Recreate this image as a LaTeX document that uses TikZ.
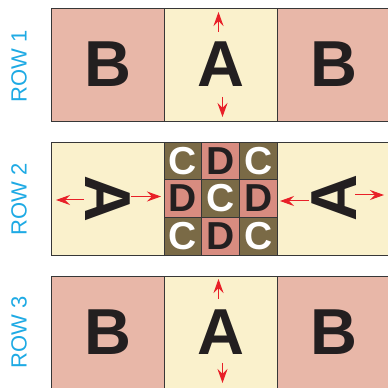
\documentclass[tikz,border=0pt]{standalone}
\usepackage{fontspec}
\setmainfont{Liberation Sans}
\usetikzlibrary{arrows.meta, positioning}

\definecolor{tileB}{RGB}{232,183,168}
\definecolor{tileA}{RGB}{250,241,204}
\definecolor{tileC}{RGB}{122,106,70}
\definecolor{tileD}{RGB}{216,140,128}
\definecolor{edge}{RGB}{55,55,55}
\definecolor{ink}{RGB}{35,31,32}
\definecolor{rowblue}{RGB}{30,170,228}
\definecolor{arrowred}{RGB}{232,32,40}

\begin{document}
\begin{tikzpicture}[
        x = 1pt, y = 1pt,
        > = {Stealth[length=14pt, width=10pt, inset=5pt]}, % arrow head style
        node distance = 0pt, % tiles touch each other
        big/.style = {draw = edge, line width = 0.9pt, minimum size = 113pt,
            inner sep = 0pt, outer sep = 0pt, text = ink,
            font = \fontsize{65}{65}\selectfont\bfseries},
        small/.style = {draw = edge, line width = 0.9pt, minimum size = 37.67pt,
            inner sep = 0pt, outer sep = 0pt,
            font = \fontsize{39}{39}\selectfont\bfseries},
        tileA/.style = {big, fill = tileA},
        tileB/.style = {big, fill = tileB},
        tileC/.style = {small, fill = tileC, text = white},
        tileD/.style = {small, fill = tileD, text = ink},
        bigletter/.style = {inner sep = 0pt, text = ink,
            font = \fontsize{65}{65}\selectfont\bfseries},
        rowlabel/.style = {rotate = 90, inner sep = 0pt, text = rowblue,
            font = \fontsize{22}{22}\selectfont},
        push/.style = {->, draw = arrowred, line width = 1pt}
    ]

    \useasboundingbox (0,0) rectangle (388,388);
    \clip (0,0) rectangle (388,388);

    % row 1
    \node[tileB] (b11) at (107.5,323.5) {B};
    \node[tileA, right = of b11] (a12) {A};
    \node[tileB, right = of a12] (b13) {B};

    % row 2
    \node[tileA] (a21) at (107.5,189.5) {};
    \node[tileA, right = of a21] (a22) {};
    \node[tileA, right = of a22] (a23) {};
    \node[bigletter, rotate = -90] (l21) at (a21) {A};
    \node[bigletter, rotate = 90] (l23) at ([xshift=1pt]a23) {A};

    % small tiles in the middle
    \node[tileC] (s22) at (a22) {C};
    \node[tileD, above = of s22] (s12) {D};
    \node[tileD, below = of s22] (s32) {D};
    \node[tileD, left = of s22] (s21) {D};
    \node[tileD, right = of s22] (s23) {D};
    \node[tileC, left = of s12] (s11) {C};
    \node[tileC, right = of s12] (s13) {C};
    \node[tileC, left = of s32] (s31) {C};
    \node[tileC, right = of s32] (s33) {C};

    % row 3
    \node[tileB] (b31) at (107.5,55.5) {B};
    \node[tileA, right = of b31] (a32) {A};
    \node[tileB, right = of a32] (b33) {B};

    % labels
    \node[rowlabel] (row1) at (19,322) {ROW 1};
    \node[rowlabel] (row2) at (19,188.5) {ROW 2};
    \node[rowlabel] (row3) at (19,56) {ROW 3};

    % arrows
    \draw[push] ([xshift=-2pt, yshift=-24pt]a12.north) -- ([xshift=-2pt, yshift=-4pt]a12.north);
    \draw[push] ([xshift=2pt, yshift=24pt]a12.south) -- ([xshift=2pt, yshift=4pt]a12.south);
    \draw[push] ([xshift=-2pt, yshift=-23pt]a32.north) -- ([xshift=-2pt, yshift=-3pt]a32.north);
    \draw[push] ([xshift=2pt, yshift=26pt]a32.south) -- ([xshift=2pt, yshift=6pt]a32.south);

    \draw[push] ([xshift=33pt, yshift=-1.5pt]a21.west) -- ([xshift=5pt, yshift=-1.5pt]a21.west);
    \draw[push] ([xshift=-33pt, yshift=2pt]a21.east) -- ([xshift=-3pt, yshift=2pt]a21.east);
    \draw[push] ([xshift=32pt, yshift=-2.5pt]a23.west) -- ([xshift=3pt, yshift=-2.5pt]a23.west);
    \draw[push] ([xshift=-35pt, yshift=3.5pt]a23.east) -- ([xshift=-6pt, yshift=3.5pt]a23.east);

\end{tikzpicture}
\end{document}
